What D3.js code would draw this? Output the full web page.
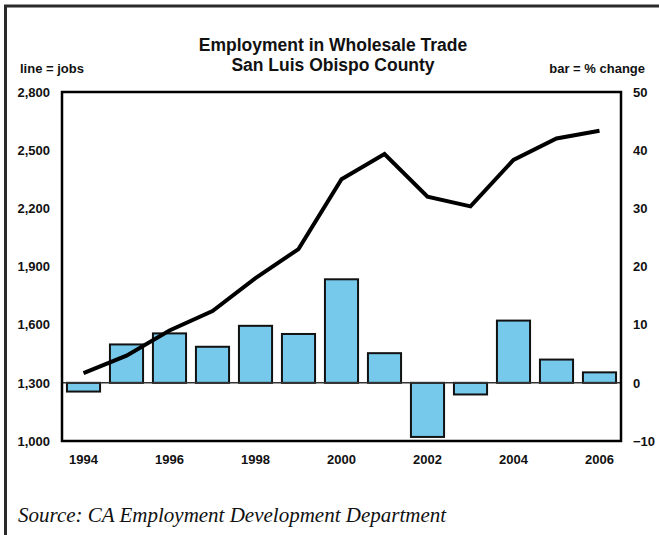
<!DOCTYPE html>
<html>
<head>
<meta charset="utf-8">
<script src="https://cdn.jsdelivr.net/npm/d3@7"></script>
<style>
  body { margin: 0; background: #fff; }
  svg text { font-family: "Liberation Sans", Arial, sans-serif; font-weight: bold; fill: #111; }
</style>
</head>
<body>
<svg id="chart" width="659" height="535"></svg>
<script>
'use strict';

// chart data
var years = ['1994', '1995', '1996', '1997', '1998', '1999', '2000', '2001', '2002', '2003', '2004', '2005', '2006'];
var jobs = [1350, 1440, 1570, 1670, 1840, 1990, 2350, 2480, 2260, 2210, 2450, 2560, 2600];
var pctChange = [-1.5, 6.6, 8.5, 6.2, 9.8, 8.4, 17.8, 5.1, -9.3, -2.0, 10.7, 4.0, 1.8];
var jobTicks = [1000, 1300, 1600, 1900, 2200, 2500, 2800];
var pctTicks = [-10, 0, 10, 20, 30, 40, 50];
var yearLabels = ['1994', '1996', '1998', '2000', '2002', '2004', '2006'];

var svg = d3.select('#chart');

var plot = { left: 62, right: 621, top: 92, bottom: 441 };

var x = d3.scaleBand().domain(years).range([plot.left, plot.right]).paddingInner(0.23).paddingOuter(0.115);
var yJobs = d3.scaleLinear().domain([1000, 2800]).range([plot.bottom, plot.top]);
var yPct = d3.scaleLinear().domain([-10, 50]).range([plot.bottom, plot.top]);

// outer frame (top + left only)
svg.append('path')
    .attr('d', 'M5.5,535 V6 H659')
    .attr('fill', 'none')
    .attr('stroke', '#2a2a2a')
    .attr('stroke-width', 3);

// titles
svg.append('text').attr('x', 333).attr('y', 51).attr('text-anchor', 'middle')
    .style('font-size', '17.5px').text('Employment in Wholesale Trade');
svg.append('text').attr('x', 333).attr('y', 71).attr('text-anchor', 'middle')
    .style('font-size', '17.5px').text('San Luis Obispo County');
svg.append('text').attr('x', 20).attr('y', 73)
    .style('font-size', '13px').text('line = jobs');
svg.append('text').attr('x', 645).attr('y', 73).attr('text-anchor', 'end')
    .style('font-size', '13px').text('bar = % change');

// bars
svg.append('g').selectAll('rect')
    .data(pctChange)
  .enter().append('rect')
    .attr('x', function(d, i) { return x(years[i]); })
    .attr('width', x.bandwidth())
    .attr('y', function(d) { return yPct(Math.max(0, d)); })
    .attr('height', function(d) { return Math.abs(yPct(d) - yPct(0)); })
    .attr('fill', '#77c9ec')
    .attr('stroke', '#111')
    .attr('stroke-width', 2);

// zero line
svg.append('line')
    .attr('x1', plot.left).attr('x2', plot.right)
    .attr('y1', yPct(0)).attr('y2', yPct(0))
    .attr('stroke', '#333').attr('stroke-width', 1.5);

// jobs line
var line = d3.line()
    .x(function(d, i) { return x(years[i]) + x.bandwidth() / 2; })
    .y(function(d) { return yJobs(d); });

svg.append('path')
    .datum(jobs)
    .attr('d', line)
    .attr('fill', 'none')
    .attr('stroke', '#000')
    .attr('stroke-width', 4)
    .attr('stroke-linejoin', 'miter');

// plot frame
svg.append('rect')
    .attr('x', plot.left).attr('y', plot.top)
    .attr('width', plot.right - plot.left).attr('height', plot.bottom - plot.top)
    .attr('fill', 'none').attr('stroke', '#000').attr('stroke-width', 2.5);

// axes (labels only, no tick marks)
var leftAxis = d3.axisLeft(yJobs).tickValues(jobTicks).tickSize(0).tickPadding(12)
    .tickFormat(d3.format(','));
var rightAxis = d3.axisRight(yPct).tickValues(pctTicks).tickSize(0).tickPadding(12);
var bottomAxis = d3.axisBottom(x).tickValues(yearLabels).tickSize(0).tickPadding(14);

[
  svg.append('g').attr('transform', 'translate(' + plot.left + ',0)').call(leftAxis),
  svg.append('g').attr('transform', 'translate(' + plot.right + ',0)').call(rightAxis),
  svg.append('g').attr('transform', 'translate(0,' + plot.bottom + ')').call(bottomAxis)
].forEach(function(g) {
  g.select('.domain').remove();
  g.selectAll('text').style('font-size', '13px').style('font-family', '"Liberation Sans", Arial, sans-serif')
      .style('font-weight', 'bold').attr('fill', '#111');
});

// source note
svg.append('text').attr('x', 18).attr('y', 522)
    .style('font-family', '"Liberation Serif", "Times New Roman", serif')
    .style('font-weight', 'normal').style('font-style', 'italic').style('font-size', '21px')
    .attr('fill', '#222')
    .text('Source: CA Employment Development Department');
</script>
</body>
</html>
